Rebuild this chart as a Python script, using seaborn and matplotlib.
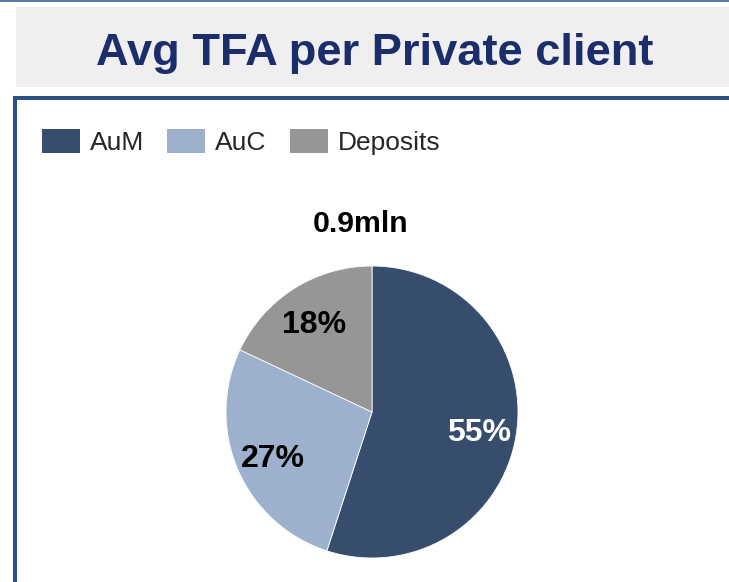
import matplotlib
matplotlib.use("Agg")
import matplotlib.pyplot as plt
from matplotlib.patches import Rectangle, Patch
import seaborn as sns

# Portfolio split of average total financial assets per private client
categories = ["AuM", "AuC", "Deposits"]
shares = [55, 27, 18]
total_label = "0.9mln"
title_text = "Avg TFA per Private client"

slice_colors = ["#374D6E", "#9DB1CE", "#969696"]
pct_text_colors = ["white", "black", "black"]

sns.set_theme(style="white")
plt.rcParams["font.family"] = ["Liberation Sans", "DejaVu Sans"]

W, H = 729, 582
fig = plt.figure(figsize=(W / 100, H / 100), dpi=100)
fig.patch.set_facecolor("white")


def fx(px):
    return px / W


def fy(py):
    return 1 - py / H


# Thin rule along the top edge
fig.add_artist(Rectangle((0, fy(1.5)), 1, 1.5 / H, transform=fig.transFigure,
                         facecolor="#5C7AA3", edgecolor="none", zorder=1))
# Grey title banner
fig.add_artist(Rectangle((fx(16), fy(87)), 1 - fx(16), 80 / H, transform=fig.transFigure,
                         facecolor="#EFEFEF", edgecolor="none", zorder=1))
fig.text(fx(375), fy(65), title_text, ha="center", va="baseline",
         fontsize=32.6, fontweight="bold", color="#1B2D6B")

# Framed content panel
fig.add_artist(Rectangle((fx(15), fy(620)), 1.2, (620 - 98) / H, transform=fig.transFigure,
                         facecolor="none", edgecolor="#2B5088", linewidth=2.9, zorder=2))

# Pie chart
cx, cy, r = 372, 412, 146
ax = fig.add_axes([fx(cx - r), fy(cy + r), 2 * r / W, 2 * r / H])
wedges, texts, autotexts = ax.pie(
    shares, colors=slice_colors, startangle=90, counterclock=False,
    autopct=lambda p: f"{p:.0f}%", pctdistance=0.74,
    wedgeprops=dict(edgecolor="white", linewidth=0.6),
    textprops=dict(fontsize=23, fontweight="bold"),
)
for t, c in zip(autotexts, pct_text_colors):
    t.set_color(c)
    x, y = t.get_position()
    t.set_position((x, y - 4 / r))
ax.set_xlim(-1, 1)
ax.set_ylim(-1, 1)
ax.set_aspect("equal")
ax.axis("off")

fig.text(fx(361), fy(232), total_label, ha="center", va="baseline",
         fontsize=21.8, fontweight="bold", color="black")

# Legend
handles = [Patch(facecolor=c, edgecolor="none", label=l) for c, l in zip(slice_colors, categories)]
fig.legend(handles=handles, loc="center left", bbox_to_anchor=(fx(42), fy(142)),
           ncol=3, frameon=False, fontsize=19, borderpad=0, borderaxespad=0,
           handlelength=1.44, handleheight=1.06, handletextpad=0.38, columnspacing=0.87)

fig.savefig("out.png", dpi=100, facecolor="white")
